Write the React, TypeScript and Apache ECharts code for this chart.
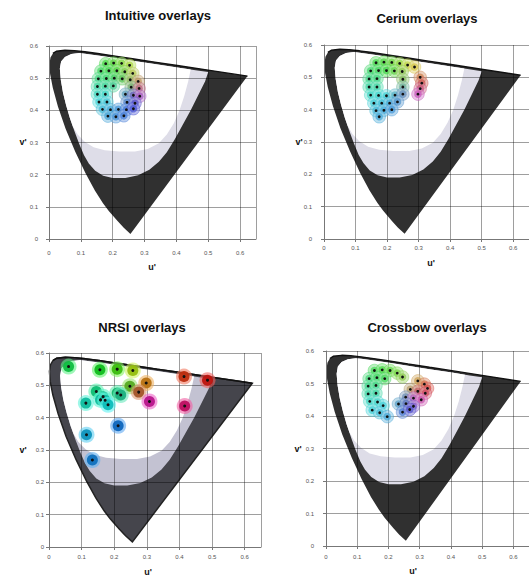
import React, { useEffect, useRef } from "react";
import * as echarts from "echarts";

// ---- Data (u', v' coordinates) ----
const locusOuter: number[][] = [
  [0.2557, 0.0159], [0.2347, 0.035], [0.216, 0.055], [0.1877, 0.0871], [0.169, 0.112],
  [0.144, 0.151], [0.1147, 0.2043], [0.0828, 0.2708], [0.0521, 0.3427], [0.028, 0.412],
  [0.0119, 0.4699], [0.0035, 0.513], [0.0014, 0.5431], [0.0046, 0.5639], [0.0123, 0.577],
  [0.0231, 0.5837], [0.0501, 0.5867], [0.0792, 0.5857], [0.1127, 0.582], [0.153, 0.5766],
  [0.2026, 0.5694], [0.262, 0.5604], [0.3315, 0.55], [0.403, 0.5395], [0.52, 0.522],
  [0.583, 0.5125], [0.6233, 0.5064],
];
const topEdge: number[][] = locusOuter.slice(14);

const bandInner: number[][] = [
  [0.095, 0.578], [0.113, 0.576], [0.153, 0.5705], [0.2026, 0.5635], [0.262, 0.5545],
  [0.3315, 0.544], [0.403, 0.5335], [0.46, 0.525], [0.5, 0.519],
  [0.49, 0.49], [0.47, 0.45], [0.445, 0.4], [0.42, 0.355], [0.395, 0.31], [0.37, 0.27],
  [0.345, 0.24], [0.315, 0.215], [0.28, 0.198], [0.24, 0.19], [0.2, 0.19], [0.17, 0.197],
  [0.145, 0.212], [0.125, 0.235], [0.11, 0.26],
  [0.095, 0.295], [0.08, 0.335], [0.066, 0.375], [0.054, 0.415], [0.044, 0.455],
  [0.037, 0.495], [0.034, 0.53], [0.038, 0.552], [0.05, 0.566], [0.07, 0.575],
];

const whiteInner: number[][] = [
  [0.095, 0.578], [0.113, 0.576], [0.153, 0.5705], [0.2026, 0.5635], [0.262, 0.5545],
  [0.3315, 0.544], [0.403, 0.5335], [0.445, 0.527],
  [0.437, 0.49], [0.425, 0.445], [0.41, 0.4], [0.392, 0.36], [0.37, 0.325], [0.345, 0.298],
  [0.31, 0.28], [0.27, 0.272], [0.22, 0.272], [0.175, 0.276], [0.14, 0.285], [0.112, 0.302],
  [0.09, 0.325], [0.075, 0.35],
  [0.066, 0.375], [0.054, 0.415], [0.044, 0.455], [0.037, 0.495], [0.034, 0.53],
  [0.038, 0.552], [0.05, 0.566], [0.07, 0.575],
];

const intuitivePoints: number[][] = [
  [0.178, 0.545], [0.203, 0.547], [0.228, 0.546], [0.253, 0.54],
  [0.163, 0.522], [0.188, 0.523], [0.213, 0.523], [0.238, 0.52], [0.263, 0.515],
  [0.155, 0.498], [0.18, 0.499], [0.205, 0.5], [0.23, 0.498], [0.255, 0.495], [0.28, 0.49],
  [0.152, 0.474], [0.177, 0.475], [0.202, 0.476], [0.258, 0.472], [0.283, 0.468],
  [0.152, 0.45], [0.177, 0.45], [0.24, 0.45], [0.265, 0.447], [0.285, 0.444],
  [0.157, 0.426], [0.182, 0.426], [0.245, 0.425], [0.27, 0.422],
  [0.168, 0.403], [0.193, 0.402], [0.218, 0.403], [0.243, 0.402], [0.265, 0.405],
  [0.185, 0.382], [0.21, 0.38], [0.235, 0.383],
];

const ceriumPoints: number[][] = [
  [0.165, 0.545], [0.19, 0.547], [0.215, 0.546], [0.24, 0.543], [0.265, 0.538], [0.287, 0.532],
  [0.148, 0.52], [0.173, 0.521], [0.198, 0.521], [0.223, 0.52], [0.248, 0.518],
  [0.143, 0.495], [0.168, 0.496], [0.25, 0.494],
  [0.143, 0.47], [0.168, 0.47], [0.25, 0.47],
  [0.148, 0.445], [0.173, 0.444], [0.198, 0.443], [0.225, 0.445], [0.25, 0.448],
  [0.158, 0.42], [0.183, 0.42], [0.208, 0.42], [0.233, 0.424],
  [0.165, 0.397], [0.19, 0.398], [0.215, 0.4],
  [0.175, 0.378],
  [0.305, 0.5], [0.31, 0.482], [0.305, 0.465], [0.298, 0.448],
];

const nrsiPoints: number[][] = [
  [0.06, 0.558], [0.156, 0.548], [0.209, 0.55], [0.257, 0.546],
  [0.414, 0.527], [0.486, 0.516], [0.416, 0.436],
  [0.248, 0.497], [0.298, 0.507], [0.275, 0.479], [0.308, 0.45],
  [0.209, 0.476], [0.22, 0.47], [0.145, 0.481], [0.166, 0.465],
  [0.158, 0.455], [0.172, 0.454], [0.181, 0.44],
  [0.113, 0.445], [0.212, 0.375], [0.115, 0.347], [0.133, 0.269],
];

const crossbowPoints: number[][] = [
  [0.155, 0.54], [0.18, 0.542], [0.205, 0.54], [0.228, 0.532], [0.245, 0.52],
  [0.138, 0.515], [0.163, 0.518], [0.188, 0.515],
  [0.135, 0.492], [0.16, 0.494],
  [0.135, 0.468], [0.16, 0.47],
  [0.14, 0.445], [0.165, 0.443], [0.183, 0.432],
  [0.148, 0.418], [0.172, 0.41], [0.196, 0.398],
  [0.294, 0.508], [0.315, 0.498], [0.325, 0.485], [0.27, 0.482], [0.294, 0.476],
  [0.318, 0.47], [0.255, 0.458], [0.28, 0.455], [0.305, 0.45], [0.232, 0.437],
  [0.256, 0.438], [0.28, 0.43], [0.245, 0.412], [0.268, 0.42],
];

const uTicks = [0, 0.1, 0.2, 0.3, 0.4, 0.5, 0.6];
const vTicks = [0, 0.1, 0.2, 0.3, 0.4, 0.5, 0.6];

// ---- Styling helpers ----
const WU = 0.26, WV = 0.47;
const HUE_STOPS: number[][] = [
  [0, -10], [30, 20], [55, 45], [80, 62], [105, 88], [130, 112], [165, 145],
  [195, 175], [225, 198], [255, 218], [285, 245], [315, 285], [340, 320], [360, 350],
];
function hueAt(u: number, v: number) {
  let a = (Math.atan2(v - WV, u - WU) * 180) / Math.PI;
  if (a < 0) a += 360;
  for (let i = 0; i < HUE_STOPS.length - 1; i++) {
    const [a0, h0] = HUE_STOPS[i];
    const [a1, h1] = HUE_STOPS[i + 1];
    if (a >= a0 && a <= a1) {
      const h = h0 + ((a - a0) / (a1 - a0)) * (h1 - h0);
      return (h + 360) % 360;
    }
  }
  return 0;
}
function satAt(u: number, v: number) {
  const d = Math.hypot(u - WU, v - WV);
  return 25 + 40 * Math.min(1, d / 0.07);
}

type Panel = {
  grid: any;
  title: string;
  titlePos: number[];
  uPos: number[];
  vPos: number[];
  yMargin: number;
  xMargin: number;
  points: number[][];
  nrsi: boolean;
};

const PANELS: Panel[] = [
  { grid: { left: 49, top: 46, width: 207, height: 193 }, title: "Intuitive overlays", titlePos: [158, 15], uPos: [152, 267], vPos: [23, 142], yMargin: 11, xMargin: 11, points: intuitivePoints, nrsi: false },
  { grid: { left: 324, top: 45, width: 212, height: 194 }, title: "Cerium overlays", titlePos: [427, 18], uPos: [431, 263], vPos: [299, 142], yMargin: 12, xMargin: 6, points: ceriumPoints, nrsi: false },
  { grid: { left: 49, top: 353, width: 212, height: 194 }, title: "NRSI overlays", titlePos: [142, 327], uPos: [148, 572], vPos: [23, 450], yMargin: 5, xMargin: 7, points: nrsiPoints, nrsi: true },
  { grid: { left: 326, top: 351, width: 211, height: 195 }, title: "Crossbow overlays", titlePos: [427, 327], uPos: [413, 571], vPos: [298, 449], yMargin: 12, xMargin: 8, points: crossbowPoints, nrsi: false },
];

function polySeries(gi: number, pts: number[][], style: any, z: number) {
  return {
    type: "custom",
    xAxisIndex: gi,
    yAxisIndex: gi,
    z,
    silent: true,
    clip: false,
    data: [pts[0]],
    renderItem: (_p: any, api: any) => ({
      type: "polygon",
      shape: { points: pts.map((p) => api.coord(p)) },
      style,
    }),
  };
}

function pointSeries(gi: number, pts: number[][], nrsi: boolean) {
  return {
    type: "custom",
    xAxisIndex: gi,
    yAxisIndex: gi,
    z: 5,
    silent: true,
    data: pts,
    renderItem: (_p: any, api: any) => {
      const u = api.value(0);
      const v = api.value(1);
      const c = api.coord([u, v]);
      const h = hueAt(u, v);
      const s = satAt(u, v);
      if (nrsi) {
        const sn = Math.min(85, s + 25);
        return {
          type: "group",
          children: [
            { type: "circle", shape: { cx: c[0], cy: c[1], r: 8 }, style: { fill: `hsla(${h},${sn}%,66%,0.6)` } },
            { type: "circle", shape: { cx: c[0], cy: c[1], r: 5.5 }, style: { fill: `hsla(${h},${sn}%,40%,0.95)` } },
          ],
        };
      }
      return {
        type: "group",
        children: [
          { type: "circle", shape: { cx: c[0], cy: c[1], r: 6.3 }, style: { fill: `hsla(${h},${s}%,70%,0.55)`, stroke: `hsla(${h},${s}%,50%,0.45)`, lineWidth: 0.8 } },
          { type: "circle", shape: { cx: c[0], cy: c[1], r: 3.8 }, style: { fill: `hsla(${h},${s}%,55%,0.7)` } },
        ],
      };
    },
  };
}

function buildOption() {
  const grids: any[] = [];
  const xAxes: any[] = [];
  const yAxes: any[] = [];
  const series: any[] = [];
  const graphics: any[] = [];
  const fmt = (v: number) => (v === 0 ? "0" : v.toFixed(1));

  PANELS.forEach((p, gi) => {
    grids.push({ ...p.grid, containLabel: false });
    const axisCommon = {
      type: "value",
      gridIndex: gi,
      min: 0,
      interval: 0.1,
      z: 3,
      axisLine: { show: true, lineStyle: { color: "#777", width: 1 } },
      axisTick: { show: true, length: 3, lineStyle: { color: "#777" } },
      splitLine: { show: true, lineStyle: { color: "rgba(0,0,0,0.38)", width: 1 } },
    };
    xAxes.push({
      ...axisCommon,
      max: 0.65,
      axisLabel: { fontSize: 6, color: "#555", margin: p.xMargin, showMaxLabel: false, formatter: (v: number) => (uTicks.some((t) => Math.abs(t - v) < 1e-6) ? fmt(v) : ""), fontFamily: "Liberation Sans" },
    });
    yAxes.push({
      ...axisCommon,
      max: 0.6,
      axisLabel: { fontSize: 6, color: "#555", margin: p.yMargin, formatter: (v: number) => (vTicks.some((t) => Math.abs(t - v) < 1e-6) ? fmt(v) : ""), fontFamily: "Liberation Sans" },
    });

    const dark = p.nrsi ? "#45454c" : "#303030";
    const lav = p.nrsi ? "#c3c2d2" : "#dedde8";
    series.push(polySeries(gi, locusOuter, p.nrsi ? { fill: dark, stroke: "#222", lineWidth: 1.5 } : { fill: dark }, 1));
    series.push(polySeries(gi, bandInner, { fill: lav }, 1));
    series.push(polySeries(gi, whiteInner, { fill: "#ffffff" }, 1));
    series.push({
      type: "line",
      xAxisIndex: gi,
      yAxisIndex: gi,
      data: topEdge,
      symbol: "none",
      silent: true,
      z: 2,
      lineStyle: { color: "#111", width: 1.4 },
    });
    series.push(pointSeries(gi, p.points, p.nrsi));
    series.push({
      type: "scatter",
      xAxisIndex: gi,
      yAxisIndex: gi,
      data: p.points,
      symbolSize: p.nrsi ? 3 : 2.8,
      silent: true,
      z: 6,
      itemStyle: { color: "#111", opacity: 1 },
    });

    graphics.push({
      type: "text",
      x: p.titlePos[0],
      y: p.titlePos[1],
      style: { text: p.title, font: 'bold 13px "Liberation Sans", Arial, sans-serif', fill: "#111", align: "center", verticalAlign: "middle" },
    });
    graphics.push({
      type: "text",
      x: p.uPos[0],
      y: p.uPos[1],
      style: { text: "u'", font: 'bold 9px "Liberation Sans", Arial, sans-serif', fill: "#111", align: "center", verticalAlign: "middle" },
    });
    graphics.push({
      type: "text",
      x: p.vPos[0],
      y: p.vPos[1],
      style: { text: "v'", font: 'bold 9px "Liberation Sans", Arial, sans-serif', fill: "#111", align: "center", verticalAlign: "middle" },
    });
  });

  return {
    animation: false,
    backgroundColor: "#ffffff",
    textStyle: { fontFamily: "Liberation Sans" },
    grid: grids,
    xAxis: xAxes,
    yAxis: yAxes,
    series,
    graphic: graphics,
  };
}

export default function App() {
  const ref = useRef<HTMLDivElement>(null);
  useEffect(() => {
    const chart = echarts.init(ref.current as HTMLDivElement, null, { renderer: "svg" });
    chart.setOption(buildOption() as any);
    return () => chart.dispose();
  }, []);
  return (
    <div
      ref={ref}
      style={{ position: "absolute", left: 0, top: 0, width: 529, height: 577, background: "#fff" }}
    />
  );
}
